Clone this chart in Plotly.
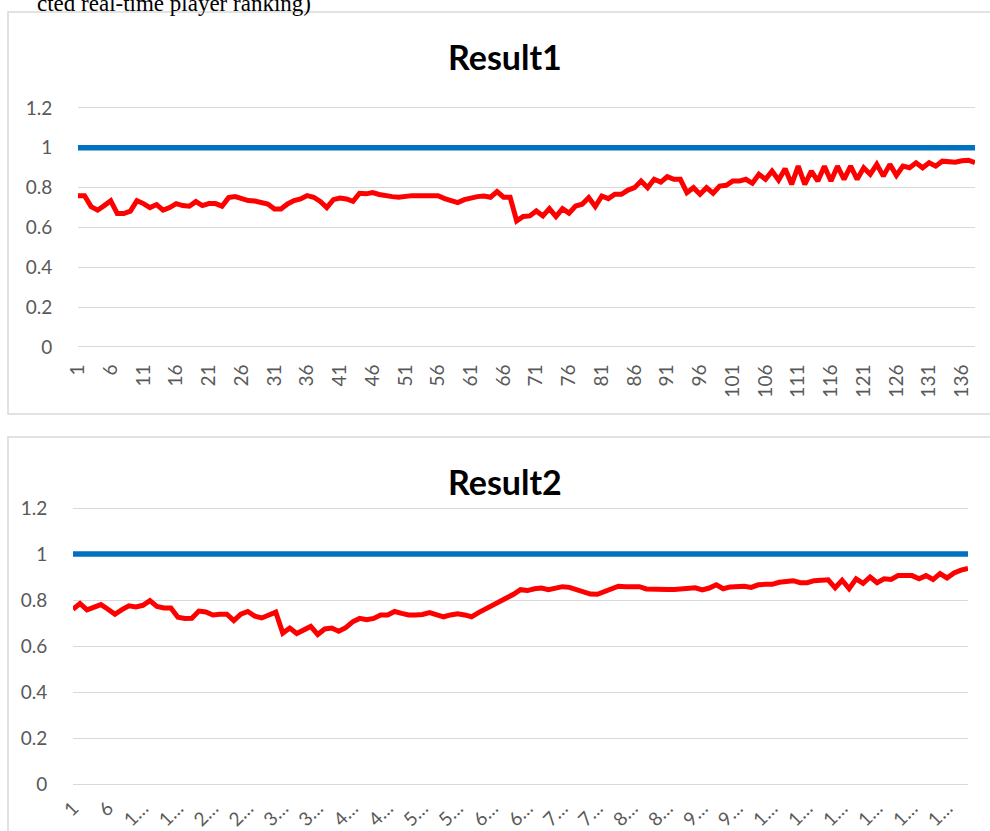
import plotly.graph_objects as go

# ---------------- data ----------------
result1 = [
    0.76, 0.76, 0.705, 0.687, 0.71, 0.734, 0.67, 0.67, 0.682, 0.735,
    0.72, 0.70, 0.715, 0.687, 0.70, 0.72, 0.71, 0.707, 0.73, 0.71,
    0.72, 0.72, 0.707, 0.75, 0.755, 0.745, 0.735, 0.733, 0.728, 0.718,
    0.693, 0.693, 0.718, 0.735, 0.743, 0.76, 0.752, 0.731, 0.70, 0.74,
    0.748, 0.743, 0.731, 0.772, 0.769, 0.775, 0.766, 0.759, 0.755, 0.752,
    0.758, 0.76, 0.76, 0.76, 0.76, 0.76, 0.745, 0.735, 0.725, 0.74,
    0.75, 0.755, 0.758, 0.752, 0.78, 0.752, 0.752, 0.633, 0.655, 0.658,
    0.683, 0.658, 0.695, 0.655, 0.695, 0.672, 0.708, 0.717, 0.75, 0.705,
    0.758, 0.745, 0.767, 0.767, 0.788, 0.80, 0.833, 0.80, 0.842, 0.828,
    0.855, 0.842, 0.842, 0.775, 0.80, 0.767, 0.80, 0.772, 0.808, 0.812,
    0.833, 0.833, 0.842, 0.822, 0.867, 0.842, 0.883, 0.838, 0.895, 0.817,
    0.908, 0.817, 0.883, 0.833, 0.908, 0.833, 0.908, 0.842, 0.908, 0.842,
    0.90, 0.867, 0.917, 0.858, 0.917, 0.862, 0.908, 0.90, 0.925, 0.90,
    0.925, 0.908, 0.933, 0.933, 0.928, 0.935, 0.938, 0.925,
]
target1 = [
    1, 1, 1, 1, 1, 1, 1, 1, 1, 1, 1, 1, 1, 1, 1, 1, 1, 1, 1, 1,
    1, 1, 1, 1, 1, 1, 1, 1, 1, 1, 1, 1, 1, 1, 1, 1, 1, 1, 1, 1,
    1, 1, 1, 1, 1, 1, 1, 1, 1, 1, 1, 1, 1, 1, 1, 1, 1, 1, 1, 1,
    1, 1, 1, 1, 1, 1, 1, 1, 1, 1, 1, 1, 1, 1, 1, 1, 1, 1, 1, 1,
    1, 1, 1, 1, 1, 1, 1, 1, 1, 1, 1, 1, 1, 1, 1, 1, 1, 1, 1, 1,
    1, 1, 1, 1, 1, 1, 1, 1, 1, 1, 1, 1, 1, 1, 1, 1, 1, 1, 1, 1,
    1, 1, 1, 1, 1, 1, 1, 1, 1, 1, 1, 1, 1, 1, 1, 1, 1, 1,
]
result2 = [
    0.76, 0.785, 0.757, 0.77, 0.78, 0.76, 0.738, 0.758, 0.775, 0.77,
    0.777, 0.797, 0.772, 0.765, 0.765, 0.725, 0.72, 0.721, 0.752, 0.748,
    0.735, 0.738, 0.738, 0.71, 0.738, 0.75, 0.73, 0.722, 0.733, 0.747,
    0.656, 0.678, 0.654, 0.672, 0.685, 0.65, 0.674, 0.678, 0.664, 0.68,
    0.705, 0.72, 0.714, 0.72, 0.735, 0.735, 0.75, 0.742, 0.735, 0.735,
    0.737, 0.745, 0.735, 0.727, 0.735, 0.74, 0.735, 0.727, 0.745, 0.76,
    0.775, 0.79, 0.805, 0.825, 0.845, 0.841, 0.849, 0.852, 0.845, 0.853,
    0.858, 0.855, 0.845, 0.835, 0.826, 0.825, 0.838, 0.85, 0.86, 0.858,
    0.858, 0.858, 0.848, 0.846, 0.846, 0.846, 0.846, 0.85, 0.853, 0.853,
    0.844, 0.852, 0.866, 0.849, 0.857, 0.86, 0.86, 0.855, 0.866, 0.868,
    0.868, 0.877, 0.883, 0.884, 0.875, 0.875, 0.884, 0.888, 0.888, 0.853,
    0.886, 0.849, 0.892, 0.872, 0.90, 0.875, 0.892, 0.889, 0.906, 0.906,
    0.906, 0.892, 0.906, 0.889, 0.915, 0.896, 0.918, 0.93, 0.937,
]
target2 = [
    1, 1, 1, 1, 1, 1, 1, 1, 1, 1, 1, 1, 1, 1, 1, 1, 1, 1, 1, 1,
    1, 1, 1, 1, 1, 1, 1, 1, 1, 1, 1, 1, 1, 1, 1, 1, 1, 1, 1, 1,
    1, 1, 1, 1, 1, 1, 1, 1, 1, 1, 1, 1, 1, 1, 1, 1, 1, 1, 1, 1,
    1, 1, 1, 1, 1, 1, 1, 1, 1, 1, 1, 1, 1, 1, 1, 1, 1, 1, 1, 1,
    1, 1, 1, 1, 1, 1, 1, 1, 1, 1, 1, 1, 1, 1, 1, 1, 1, 1, 1, 1,
    1, 1, 1, 1, 1, 1, 1, 1, 1, 1, 1, 1, 1, 1, 1, 1, 1, 1, 1, 1,
    1, 1, 1, 1, 1, 1, 1, 1, 1,
]
categories1 = list(range(1, len(result1) + 1))
categories2 = list(range(1, len(result2) + 1))

tickvals1 = [1, 6, 11, 16, 21, 26, 31, 36, 41, 46, 51, 56, 61, 66, 71, 76,
             81, 86, 91, 96, 101, 106, 111, 116, 121, 126, 131, 136]
ticktext1 = ["1", "6", "11", "16", "21", "26", "31", "36", "41", "46", "51",
             "56", "61", "66", "71", "76", "81", "86", "91", "96", "101",
             "106", "111", "116", "121", "126", "131", "136"]
tickvals2 = [1, 6, 11, 16, 21, 26, 31, 36, 41, 46, 51, 56, 61, 66, 71, 76,
             81, 86, 91, 96, 101, 106, 111, 116, 121, 126]
ticktext2 = ["1", "6", "1…", "1…", "2…", "2…", "3…", "3…", "4…", "4…", "5…",
             "5…", "6…", "6…", "7…", "7…", "8…", "8…", "9…", "9…", "1…",
             "1…", "1…", "1…", "1…", "1…"]
ytickvals = [0, 0.2, 0.4, 0.6, 0.8, 1, 1.2]
yticktext = ["0", "0.2", "0.4", "0.6", "0.8", "1", "1.2"]
titles = ["Result1", "Result2"]
header_text = "cted real-time player ranking)"

# ---------------- layout helpers ----------------
W, H = 990, 831
def px_x(p):
    return p / W
def px_y(p):
    return 1 - p / H

BLUE = "#0070C0"
RED = "#FF0000"
GRID = "#D9D9D9"
LABEL = "#595959"
FONT = "Lato, Carlito, Calibri, sans-serif"

fig = go.Figure()
fig.add_trace(go.Scatter(x=categories1, y=target1, mode="lines",
                         line=dict(color=BLUE, width=5.5),
                         xaxis="x", yaxis="y", showlegend=False))
fig.add_trace(go.Scatter(x=categories1, y=result1, mode="lines",
                         line=dict(color=RED, width=5),
                         xaxis="x", yaxis="y", showlegend=False))
fig.add_trace(go.Scatter(x=categories2, y=target2, mode="lines",
                         line=dict(color=BLUE, width=5.5),
                         xaxis="x2", yaxis="y2", showlegend=False))
fig.add_trace(go.Scatter(x=categories2, y=result2, mode="lines",
                         line=dict(color=RED, width=5),
                         xaxis="x2", yaxis="y2", showlegend=False))

yr = [-0.02, 1.22]
# top panel: 0 at 347px, 1.2 at 108px
s1 = (347 - 108) / 1.2
top1_px = 347 - s1 * yr[1]
bot1_px = 347 - s1 * yr[0]
# bottom panel: 0 at 784px, 1.2 at 508px
s2 = (784 - 508) / 1.2
top2_px = 784 - s2 * yr[1]
bot2_px = 784 - s2 * yr[0]

xaxis_common = dict(showgrid=False, zeroline=False, showline=False,
                    automargin=False,
                    ticks="outside", tickcolor="rgba(0,0,0,0)",
                    tickfont=dict(family=FONT, size=19, color=LABEL),
                    fixedrange=True)
yaxis_common = dict(range=yr, tickvals=ytickvals, ticktext=yticktext,
                    showgrid=True, gridcolor=GRID, gridwidth=1.3,
                    zeroline=False, showline=False, automargin=False,
                    ticks="outside", ticklen=21, tickcolor="rgba(0,0,0,0)",
                    tickfont=dict(family=FONT, size=19, color=LABEL),
                    fixedrange=True)

fig.update_layout(
    template="none",
    width=W, height=H,
    margin=dict(l=0, r=0, t=0, b=0, pad=0, autoexpand=False),
    paper_bgcolor="white", plot_bgcolor="white",
    xaxis=dict(domain=[px_x(78), px_x(975)], range=[1, len(result1)],
               tickvals=tickvals1, ticktext=ticktext1, tickangle=-90,
               ticklen=5, anchor="y", **xaxis_common),
    yaxis=dict(domain=[px_y(bot1_px), px_y(top1_px)], anchor="x",
               **yaxis_common),
    xaxis2=dict(domain=[px_x(73), px_x(968)], range=[1, len(result2)],
                tickvals=tickvals2, ticktext=ticktext2, tickangle=-45,
                ticklen=0, anchor="y2", **xaxis_common),
    yaxis2=dict(domain=[px_y(bot2_px), px_y(top2_px)], anchor="x2",
                **yaxis_common),
    shapes=[
        dict(type="rect", xref="paper", yref="paper",
             x0=px_x(8), x1=px_x(1000), y0=px_y(414), y1=px_y(12),
             line=dict(color=GRID, width=1.5), fillcolor="rgba(0,0,0,0)",
             layer="below"),
        dict(type="rect", xref="paper", yref="paper",
             x0=px_x(8), x1=px_x(1000), y0=px_y(845), y1=px_y(437),
             line=dict(color=GRID, width=1.5), fillcolor="rgba(0,0,0,0)",
             layer="below"),
    ],
    annotations=[
        dict(text="<b>%s</b>" % titles[0], xref="paper", yref="paper",
             x=px_x(505), y=px_y(57), xanchor="center", yanchor="middle",
             showarrow=False, font=dict(family=FONT, size=34, color="#000000")),
        dict(text="<b>%s</b>" % titles[1], xref="paper", yref="paper",
             x=px_x(505), y=px_y(481), xanchor="center", yanchor="middle",
             showarrow=False, font=dict(family=FONT, size=34, color="#000000")),
        dict(text=header_text, xref="paper", yref="paper",
             x=px_x(313), y=px_y(18), xanchor="right", yanchor="bottom",
             showarrow=False,
             font=dict(family="Liberation Serif, Times New Roman, serif",
                       size=23, color="#000000")),
    ],
)

fig.write_html(
    "out.html",
    config={"displayModeBar": False},
    post_script="document.body.style.margin='0px';"
                "document.body.style.overflow='hidden';",
)
